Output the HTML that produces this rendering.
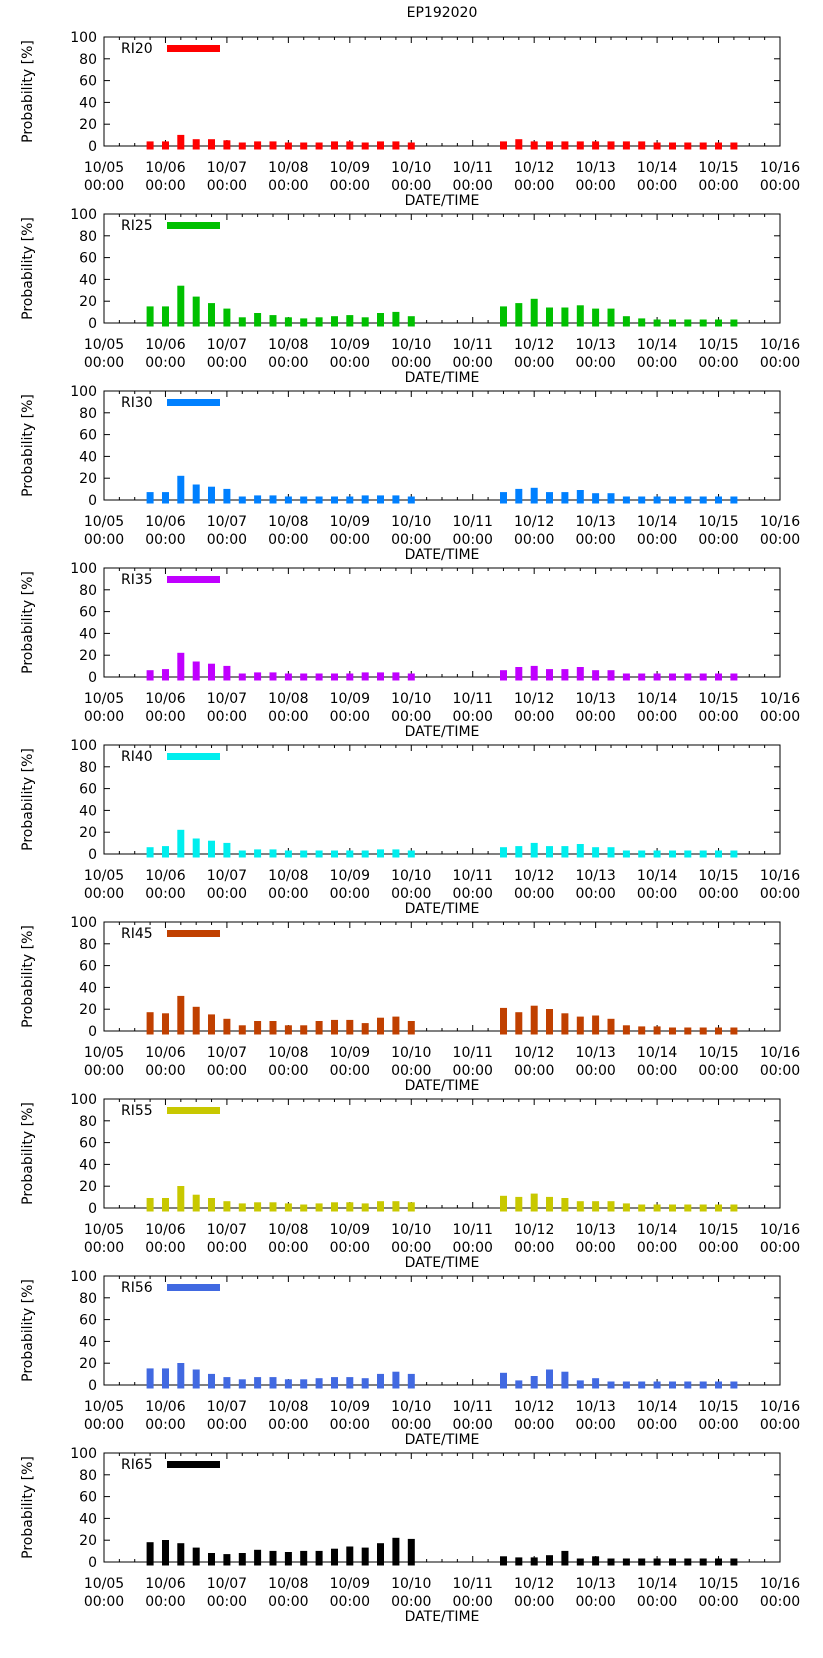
<!DOCTYPE html>
<html><head><meta charset="utf-8"><style>
html,body{margin:0;padding:0;background:#fff}
svg text{font-family:"DejaVu Sans","Liberation Sans",sans-serif;fill:#000}
</style></head><body>
<svg id="chart" width="823" height="1653" viewBox="0 0 823 1653" xmlns="http://www.w3.org/2000/svg">
<text x="442" y="17" font-size="14" text-anchor="middle">EP192020</text>
</svg>
<script>
var dayLabels = ["10/05","10/06","10/07","10/08","10/09","10/10","10/11","10/12","10/13","10/14","10/15","10/16"];
var yTicks = [0,20,40,60,80,100];
var seriesNames = ["RI20","RI25","RI30","RI35","RI40","RI45","RI55","RI56","RI65"];
var seriesColors = ["#ff0000","#00c000","#0080ff","#c000ff","#00eeee","#c04000","#c8c800","#4169e1","#000000"];
var timesA = [0.75,1,1.25,1.5,1.75,2,2.25,2.5,2.75,3,3.25,3.5,3.75,4,4.25,4.5,4.75,5];
var timesB = [6.5,6.75,7,7.25,7.5,7.75,8,8.25,8.5,8.75,9,9.25,9.5,9.75,10,10.25];
var ri20A = [1,1,7,3,3,2,0,1,1,0,0,0,1,1,0,1,1,0];
var ri20B = [1,3,1,1,1,1,1,1,1,1,0,0,0,0,0,0];
var ri25A = [12,12,31,21,15,10,2,6,4,2,1,2,3,4,2,6,7,3];
var ri25B = [12,15,19,11,11,13,10,10,3,1,0,0,0,0,0,0];
var ri30A = [4,4,19,11,9,7,0,1,1,0,0,0,0,0,1,1,1,0];
var ri30B = [4,7,8,4,4,6,3,3,0,0,0,0,0,0,0,0];
var ri35A = [3,4,19,11,9,7,0,1,1,0,0,0,0,0,1,1,1,0];
var ri35B = [3,6,7,4,4,6,3,3,0,0,0,0,0,0,0,0];
var ri40A = [3,4,19,11,9,7,0,1,1,0,0,0,0,0,0,1,1,0];
var ri40B = [3,4,7,4,4,6,3,3,0,0,0,0,0,0,0,0];
var ri45A = [14,13,29,19,12,8,2,6,6,2,2,6,7,7,4,9,10,6];
var ri45B = [18,14,20,17,13,10,11,8,2,1,1,0,0,0,0,0];
var ri55A = [6,6,17,9,6,3,1,2,2,1,0,1,2,2,1,3,3,2];
var ri55B = [8,7,10,7,6,3,3,3,1,0,0,0,0,0,0,0];
var ri56A = [12,12,17,11,7,4,2,4,4,2,2,3,4,4,3,7,9,7];
var ri56B = [8,1,5,11,9,1,3,0,0,0,0,0,0,0,0,0];
var ri65A = [15,17,14,10,5,4,5,8,7,6,7,7,9,11,10,14,19,18];
var ri65B = [2,1,1,3,7,0,2,0,0,0,0,0,0,0,0,0];
var valuesA = [ri20A,ri25A,ri30A,ri35A,ri40A,ri45A,ri55A,ri56A,ri65A];
var valuesB = [ri20B,ri25B,ri30B,ri35B,ri40B,ri45B,ri55B,ri56B,ri65B];

var NS="http://www.w3.org/2000/svg";
var svgEl=document.getElementById('chart');
var PL=104,PR=780,PH=109,PERIOD=177,TOP0=37;
function xs(d){return PL+(PR-PL)*d/11;}
function ys(v,pt){return pt+PH-PH*v/100;}
function mk(tag,attrs,parent){var e=document.createElementNS(NS,tag);for(var k in attrs)e.setAttribute(k,attrs[k]);(parent||svgEl).appendChild(e);return e;}

for(var p=0;p<seriesNames.length;p++){
  var pTop=TOP0+p*PERIOD, pBot=pTop+PH;
  var g=mk('g',{});
  
  
  var fr=mk('rect',{x:PL,y:pTop,width:PR-PL,height:PH,fill:'none',stroke:'#000','stroke-width':1},g);
  
  
  for(var t=0;t<yTicks.length;t++){
    var yy=ys(yTicks[t],pTop);
    mk('line',{x1:PL,x2:PL+6,y1:yy,y2:yy,stroke:'#000'},g);
    mk('line',{x1:PR-6,x2:PR,y1:yy,y2:yy,stroke:'#000'},g);
    var tl=mk('text',{x:PL-7,y:yy+5,'font-size':14,'text-anchor':'end'},g);
    tl.textContent=yTicks[t];
    
    
  }
  for(var q=0;q<=44;q++){
    var xx=xs(q/4), len=(q%4==0)?6:3;
    mk('line',{x1:xx,x2:xx,y1:pBot,y2:pBot-len,stroke:'#000'},g);
    mk('line',{x1:xx,x2:xx,y1:pTop,y2:pTop+len,stroke:'#000'},g);
  }
  var sets=[[timesA,valuesA[p]],[timesB,valuesB[p]]];
  for(var s=0;s<2;s++){
    for(var i=0;i<sets[s][0].length;i++){
      var x=xs(sets[s][0][i]), yv=ys(sets[s][1][i],pTop);
      var r=mk('rect',{x:(x-3.5).toFixed(1),y:(yv-3.5).toFixed(1),width:7,height:(pBot-yv+7).toFixed(1),fill:seriesColors[p]},g);
      
      
    }
  }
  for(var d=0;d<dayLabels.length;d++){
    var t1=mk('text',{x:xs(d),y:pBot+26,'font-size':14,'text-anchor':'middle'},g);
    t1.textContent=dayLabels[d];
    
    
    var t2=mk('text',{x:xs(d),y:pBot+44,'font-size':14,'text-anchor':'middle'},g);
    t2.textContent='00:00';
    
    
  }
  var xt=mk('text',{x:(PL+PR)/2,y:pBot+59,'font-size':14,'text-anchor':'middle'},g);
  xt.textContent='DATE/TIME';
  
  
  var cy=pTop+PH/2;
  var yt=mk('text',{x:32,y:cy,'font-size':14,'text-anchor':'middle',transform:'rotate(-90 32 '+cy+')'},g);
  yt.textContent='Probability [%]';
  
  
  var lt=mk('text',{x:121,y:pTop+16,'font-size':14},g);
  lt.textContent=seriesNames[p];
  
  
  var ls=mk('rect',{x:167,y:pTop+8,width:53,height:7,fill:seriesColors[p]},g);
  
  
}
</script>
</body></html>
